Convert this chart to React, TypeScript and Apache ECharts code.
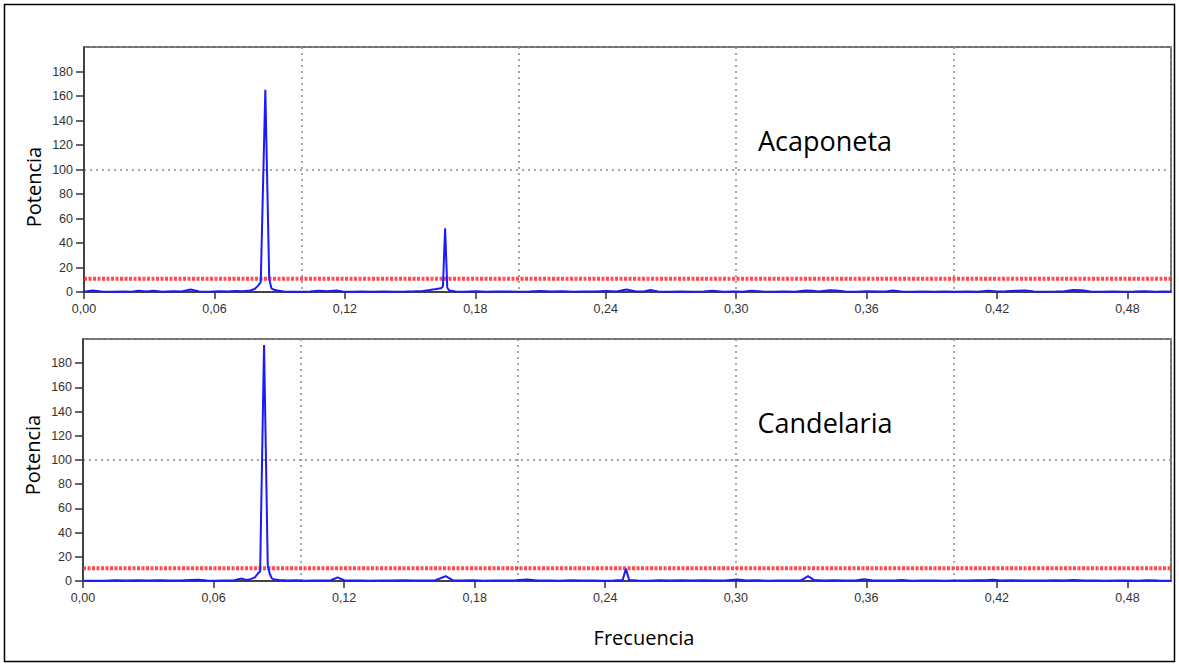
import React, { useEffect, useRef } from "react";
import * as echarts from "echarts";

// Acaponeta (top panel)
const freqAcaponeta = [0.000, 0.004, 0.008, 0.013, 0.018, 0.022, 0.025, 0.029, 0.032, 0.036, 0.041, 0.045, 0.049, 0.053, 0.058, 0.062, 0.066, 0.070, 0.073, 0.0765, 0.0785, 0.0800, 0.0813, 0.0834, 0.0852, 0.0862, 0.0875, 0.0890, 0.0920, 0.0960, 0.1000, 0.1040, 0.1080, 0.1120, 0.1160, 0.1190, 0.1230, 0.1280, 0.1330, 0.1380, 0.1430, 0.1480, 0.1520, 0.1560, 0.1590, 0.1620, 0.1642, 0.1651, 0.1661, 0.1671, 0.1680, 0.1710, 0.1750, 0.1800, 0.1850, 0.1900, 0.1950, 0.2000, 0.2050, 0.2100, 0.2150, 0.2200, 0.2250, 0.2300, 0.2350, 0.2400, 0.2450, 0.2495, 0.2540, 0.2580, 0.2605, 0.2640, 0.2700, 0.2750, 0.2800, 0.2850, 0.2890, 0.2940, 0.2990, 0.3030, 0.3070, 0.3120, 0.3170, 0.3220, 0.3270, 0.3320, 0.3350, 0.3380, 0.3430, 0.3460, 0.3500, 0.3550, 0.3600, 0.3650, 0.3690, 0.3720, 0.3760, 0.3810, 0.3860, 0.3910, 0.3960, 0.4010, 0.4060, 0.4110, 0.4160, 0.4200, 0.4240, 0.4290, 0.4330, 0.4370, 0.4420, 0.4470, 0.4510, 0.4550, 0.4590, 0.4630, 0.4680, 0.4730, 0.4780, 0.4830, 0.4880, 0.4930, 0.4970, 0.5000];
const powerAcaponeta = [0.3, 1.2, 0.4, 0.3, 0.5, 0.3, 1.0, 0.4, 1.1, 0.3, 0.6, 0.4, 2.0, 0.5, 0.3, 0.6, 0.4, 0.8, 0.6, 1.2, 2.5, 5.0, 8.0, 165, 10.5, 3.0, 1.8, 1.2, 0.5, 0.3, 0.2, 0.4, 1.0, 0.6, 1.2, 0.5, 0.3, 0.4, 0.3, 0.5, 0.3, 0.4, 0.6, 0.9, 1.6, 2.4, 3.0, 4.5, 52, 3.5, 1.2, 0.5, 0.3, 0.6, 0.3, 0.5, 0.4, 0.3, 0.5, 0.8, 0.4, 0.6, 0.3, 0.5, 0.4, 0.8, 0.4, 2.0, 0.4, 0.6, 1.6, 0.4, 0.3, 0.5, 0.3, 0.4, 1.0, 0.3, 0.5, 0.3, 1.0, 0.4, 0.3, 0.5, 0.3, 1.3, 1.0, 0.4, 1.4, 1.2, 0.4, 0.3, 0.6, 0.4, 0.5, 1.3, 0.4, 0.3, 0.4, 0.3, 0.5, 0.3, 0.4, 0.3, 1.0, 0.4, 0.6, 1.0, 1.2, 0.5, 0.3, 0.4, 0.6, 1.6, 1.5, 0.4, 0.3, 0.5, 0.3, 0.4, 0.6, 0.3, 0.5, 0.3];
const thresholdAcaponeta = 10.9;

// Candelaria (bottom panel)
const freqCandelaria = [0.000, 0.005, 0.010, 0.015, 0.020, 0.025, 0.030, 0.035, 0.040, 0.045, 0.049, 0.053, 0.057, 0.061, 0.065, 0.069, 0.0730, 0.0750, 0.0770, 0.0790, 0.0803, 0.0814, 0.0832, 0.0849, 0.0858, 0.0868, 0.0880, 0.0900, 0.0940, 0.0980, 0.1020, 0.1060, 0.1100, 0.1140, 0.1170, 0.1200, 0.1240, 0.1280, 0.1320, 0.1370, 0.1420, 0.1470, 0.1520, 0.1570, 0.1620, 0.1667, 0.1700, 0.1740, 0.1790, 0.1840, 0.1890, 0.1940, 0.1990, 0.2040, 0.2090, 0.2140, 0.2190, 0.2240, 0.2290, 0.2340, 0.2390, 0.2440, 0.2480, 0.2495, 0.2510, 0.2550, 0.2600, 0.2650, 0.2700, 0.2750, 0.2800, 0.2850, 0.2900, 0.2950, 0.3005, 0.3050, 0.3100, 0.3150, 0.3200, 0.3250, 0.3300, 0.3332, 0.3360, 0.3400, 0.3450, 0.3500, 0.3550, 0.3590, 0.3630, 0.3680, 0.3730, 0.3760, 0.3810, 0.3860, 0.3910, 0.3960, 0.4010, 0.4060, 0.4110, 0.4150, 0.4180, 0.4220, 0.4270, 0.4320, 0.4370, 0.4420, 0.4470, 0.4510, 0.4550, 0.4600, 0.4650, 0.4700, 0.4750, 0.4800, 0.4850, 0.4890, 0.4940, 0.5000];
const powerCandelaria = [0.2, 0.3, 0.2, 0.6, 0.5, 0.7, 0.5, 0.6, 0.4, 0.5, 0.9, 1.0, 0.4, 0.3, 0.5, 0.4, 2.0, 0.8, 1.5, 3.0, 6.0, 8.0, 195, 13, 6, 2.2, 1.2, 0.8, 0.4, 0.6, 0.3, 0.5, 0.4, 0.6, 3.0, 0.6, 0.4, 0.5, 0.3, 0.5, 0.4, 0.6, 0.4, 0.5, 0.6, 4.0, 0.6, 0.4, 0.6, 0.3, 0.5, 0.4, 0.6, 1.2, 0.4, 0.5, 0.3, 0.6, 0.4, 0.5, 0.3, 0.5, 0.8, 10, 0.8, 0.5, 0.3, 0.6, 0.5, 0.7, 0.4, 0.6, 0.4, 0.5, 1.2, 0.4, 0.6, 0.3, 0.5, 0.4, 0.6, 4.0, 0.8, 0.5, 0.6, 0.4, 0.5, 1.5, 0.5, 0.4, 0.5, 0.8, 0.3, 0.5, 0.4, 0.3, 0.5, 0.4, 0.6, 0.7, 1.0, 0.4, 0.6, 0.4, 0.5, 0.4, 0.6, 0.5, 0.8, 0.4, 0.5, 0.3, 0.5, 0.4, 0.3, 0.6, 0.4, 0.3];
const thresholdCandelaria = 10.6;

// Axes
const xTicks = [0, 0.06, 0.12, 0.18, 0.24, 0.3, 0.36, 0.42, 0.48];
const yTicks = [0, 20, 40, 60, 80, 100, 120, 140, 160, 180];
const xMin = 0;
const xMax = 0.5;
const yMin = 0;
const yMax = 200;
const panelTitles = ["Acaponeta", "Candelaria"];
const yAxisTitle = "Potencia";
const xAxisTitle = "Frecuencia";

const zip = (xs: number[], ys: number[]) => xs.map((x, i) => [x, ys[i]]);

export default function App() {
  const ref = useRef<HTMLDivElement>(null);
  useEffect(() => {
    if (!ref.current) return;
    const chart = echarts.init(ref.current, null, { renderer: "svg" });
    const grids = [
      { left: 84, top: 47, width: 1087, height: 245 },
      { left: 83, top: 339, width: 1088, height: 242 },
    ];
    const labelFont = { fontFamily: "'Liberation Sans', Arial, sans-serif", fontSize: 12.5, color: "#333" };
    const xAxes: any[] = [];
    const yAxes: any[] = [];
    grids.forEach((_, gi) => {
      xAxes.push({
        type: "value",
        gridIndex: gi,
        min: xMin,
        max: xMax,
        position: "bottom",
        axisLine: { show: true, onZero: false, lineStyle: { color: "#333", width: 1.5 } },
        axisTick: { show: true, length: 7, customValues: xTicks, lineStyle: { color: "#333", width: 1.5 } },
        axisLabel: {
          ...labelFont,
          margin: 10,
          customValues: xTicks,
          formatter: (v: number) => v.toFixed(2).replace(".", ","),
        },
        splitLine: { show: false },
      });
      xAxes.push({
        type: "value",
        gridIndex: gi,
        min: xMin,
        max: xMax,
        interval: 0.1,
        position: "top",
        axisLine: { show: false },
        axisTick: { show: false },
        axisLabel: { show: false },
        splitLine: { show: true, lineStyle: { color: "#8a8a8a", width: 1.5, type: [2, 4] } },
      });
      yAxes.push({
        type: "value",
        gridIndex: gi,
        min: yMin,
        max: yMax,
        position: "left",
        axisLine: { show: true, onZero: false, lineStyle: { color: "#333", width: 1.5 } },
        axisTick: { show: true, length: 8, customValues: yTicks, lineStyle: { color: "#333", width: 1.5 } },
        axisLabel: { ...labelFont, margin: 11, customValues: yTicks },
        splitLine: { show: false },
      });
      yAxes.push({
        type: "value",
        gridIndex: gi,
        min: yMin,
        max: yMax,
        interval: 100,
        position: "right",
        axisLine: { show: false },
        axisTick: { show: false },
        axisLabel: { show: false },
        splitLine: { show: true, lineStyle: { color: "#8a8a8a", width: 1.5, type: [2, 4] } },
      });
    });

    const panels = [
      { f: freqAcaponeta, p: powerAcaponeta, thr: thresholdAcaponeta },
      { f: freqCandelaria, p: powerCandelaria, thr: thresholdCandelaria },
    ];
    const series: any[] = [];
    panels.forEach((pn, gi) => {
      series.push({
        type: "line",
        xAxisIndex: gi * 2,
        yAxisIndex: gi * 2,
        data: [[xMin, pn.thr], [xMax, pn.thr]],
        symbol: "none",
        silent: true,
        lineStyle: { color: "#ff1f1f", width: 4, type: [3, 1.5], opacity: 0.8 },
        z: 3,
      });
      series.push({
        type: "line",
        xAxisIndex: gi * 2,
        yAxisIndex: gi * 2,
        data: zip(pn.f, pn.p),
        symbol: "none",
        showSymbol: false,
        lineStyle: { color: "#1a1aff", width: 2 },
        z: 4,
      });
    });

    const titleFont = "20px 'Open Sans', sans-serif";
    chart.setOption({
      animation: false,
      backgroundColor: "#ffffff",
      grid: grids.map((g) => ({ ...g, show: true, borderColor: "#444", borderWidth: 1.5, backgroundColor: "transparent" })),
      xAxis: xAxes,
      yAxis: yAxes,
      series,
      graphic: [
        { type: "rect", shape: { x: 4.5, y: 4.5, width: 1170, height: 657 }, style: { fill: "none", stroke: "#000", lineWidth: 1.5 }, silent: true },
        { type: "text", x: 825, y: 140, style: { text: panelTitles[0], font: "27px 'Open Sans', sans-serif", fill: "#000", textAlign: "center", textVerticalAlign: "middle" } },
        { type: "text", x: 825, y: 422, style: { text: panelTitles[1], font: "27px 'Open Sans', sans-serif", fill: "#000", textAlign: "center", textVerticalAlign: "middle" } },
        { type: "text", x: 33, y: 187, rotation: Math.PI / 2, style: { text: yAxisTitle, font: titleFont, fill: "#000", textAlign: "center", textVerticalAlign: "middle" } },
        { type: "text", x: 32, y: 455, rotation: Math.PI / 2, style: { text: yAxisTitle, font: titleFont, fill: "#000", textAlign: "center", textVerticalAlign: "middle" } },
        { type: "text", x: 644, y: 637, style: { text: xAxisTitle, font: titleFont, fill: "#000", textAlign: "center", textVerticalAlign: "middle" } },
      ],
    });
    return () => chart.dispose();
  }, []);
  return <div ref={ref} style={{ position: "fixed", left: 0, top: 0, width: 1179, height: 666 }} />;
}
